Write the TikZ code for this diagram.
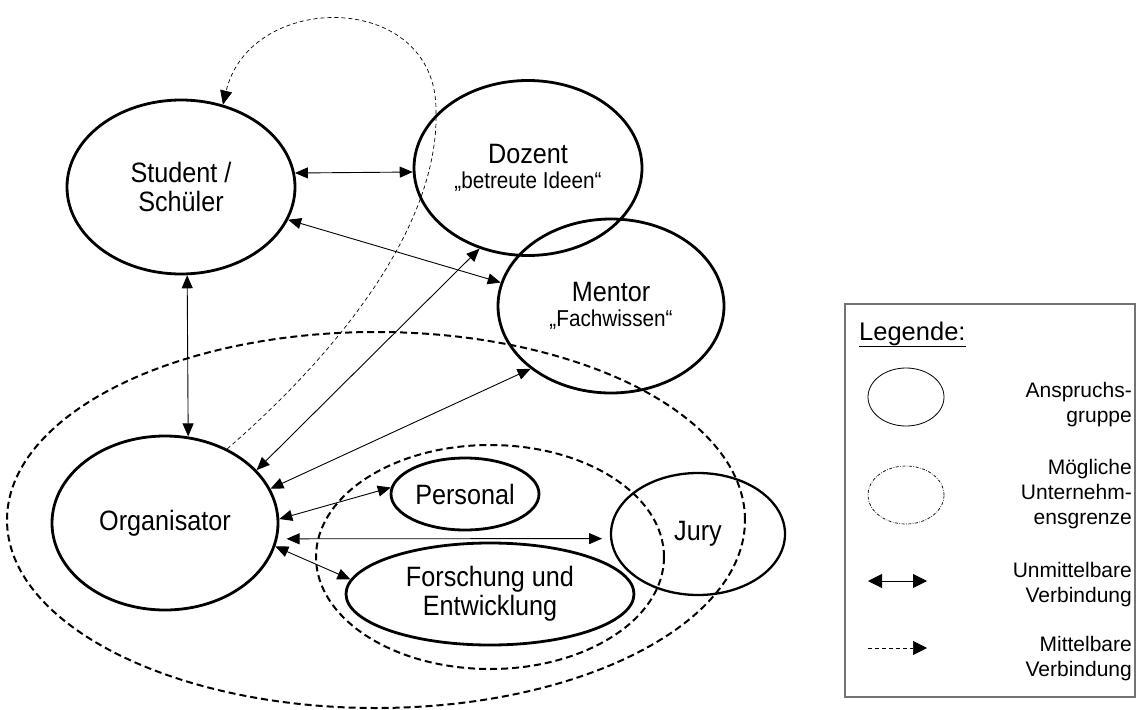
\documentclass[tikz,border=0pt]{standalone}
\usepackage{fontspec}
\setmainfont{Liberation Sans}
\newfontfamily\labelfont[FakeStretch=0.9]{Liberation Sans}
\usetikzlibrary{arrows.meta,shapes.geometric}

\begin{document}
\begin{tikzpicture}[x=1pt,y=-1pt,
  group/.style={draw, ellipse, line width=2.8pt, inner sep=0pt, align=center,
    font=\labelfont\fontsize{28}{29}\selectfont},
  link/.style={line width=0.9pt, {Triangle[length=13pt,width=11pt]}-{Triangle[length=13pt,width=11pt]}},
  boundary/.style={line width=2pt, dash pattern=on 7pt off 4pt},
  indirect/.style={line width=0.7pt, dash pattern=on 4pt off 3pt, -{Triangle[length=14pt,width=12pt]}},
  legtext/.style={anchor=east, align=right, inner sep=0pt, font=\fontsize{21}{25}\selectfont}
]
\useasboundingbox (0,0) rectangle (1137,709);

% company boundaries
\draw[boundary] (376,520) ellipse [x radius=369pt, y radius=188pt];
\draw[boundary] (490,557) ellipse [x radius=174pt, y radius=112pt];

% stakeholder groups
\node[group, minimum width=228pt, minimum height=174pt] (stud) at (181,187) {Student /\\Schüler};
\node[group, minimum width=228pt, minimum height=175pt] (doz) at (528,168)
  {Dozent\\[-4pt]{\fontsize{23}{25}\selectfont „betreute Ideen“}};
\node[group, minimum width=226pt, minimum height=174pt] (men) at (611,306)
  {Mentor\\[-4pt]{\fontsize{23}{25}\selectfont „Fachwissen“}};
\node[group, minimum width=226pt, minimum height=174pt] (org) at (165,523) {Organisator};
\node[group, minimum width=148pt, minimum height=72pt] (pers) at (465,494) {Personal};
\node[group, minimum width=288pt, minimum height=102pt] (fue) at (490,594) {Forschung und\\Entwicklung};
\node[group, line width=2.3pt, minimum width=174pt, minimum height=122pt] (jury) at (698,534) {Jury};

% direct connections
\draw[link] (stud.7.5) -- (doz.182);
\draw[link] (stud.-17) -- (men.168);
\draw[link] (stud.-86) -- (org.75);
\draw[link] (org.30) -- (doz.239);
\draw[link] (org.18) -- (men.218);
\draw[link] (org.2) -- (pers.175);
\draw[link, shorten <=9pt, shorten >=8pt] (org.-8) -- (jury.183);
\draw[link] (org.-12.5) -- (fue.174);

% indirect connection
\draw[indirect] (org.50) .. controls (330,360) and (440,230) .. (436,110)
  .. controls (436,-10) and (250,-10) .. (stud.63);

% legend
\draw[color=black!55, line width=1.2pt] (845,304) rectangle (1135,697);
\node[anchor=base west, inner sep=0pt, font=\fontsize{25.5}{30}\selectfont] (legtitle) at (859,340) {\underline{Legende:}};

\node[draw, ellipse, line width=0.8pt, minimum width=76pt, minimum height=58pt, inner sep=0pt] (symgroup) at (906,397) {};
\node[legtext] (txgroup) at (1132,405) {Anspruchs-\\gruppe};

\node[draw, ellipse, line width=0.7pt, dash pattern=on 3pt off 1.5pt on 0.7pt off 1.5pt,
  minimum width=76pt, minimum height=58pt, inner sep=0pt] (symbound) at (906,495) {};
\node[legtext] (txbound) at (1132,494.5) {Mögliche\\Unternehm-\\ensgrenze};

\coordinate (da) at (868,581);
\coordinate (db) at (927,581);
\draw[line width=0.9pt, {Triangle[length=14pt,width=14pt]}-{Triangle[length=14pt,width=14pt]}] (da) -- (db);
\node[legtext] (txdirect) at (1132,584.5) {Unmittelbare\\Verbindung};

\coordinate (ia) at (868,648);
\coordinate (ib) at (927,648);
\draw[line width=0.7pt, dash pattern=on 4pt off 3pt, -{Triangle[length=14pt,width=14pt]}] (ia) -- (ib);
\node[legtext] (txindirect) at (1132,658.5) {Mittelbare\\Verbindung};
\end{tikzpicture}
\end{document}
